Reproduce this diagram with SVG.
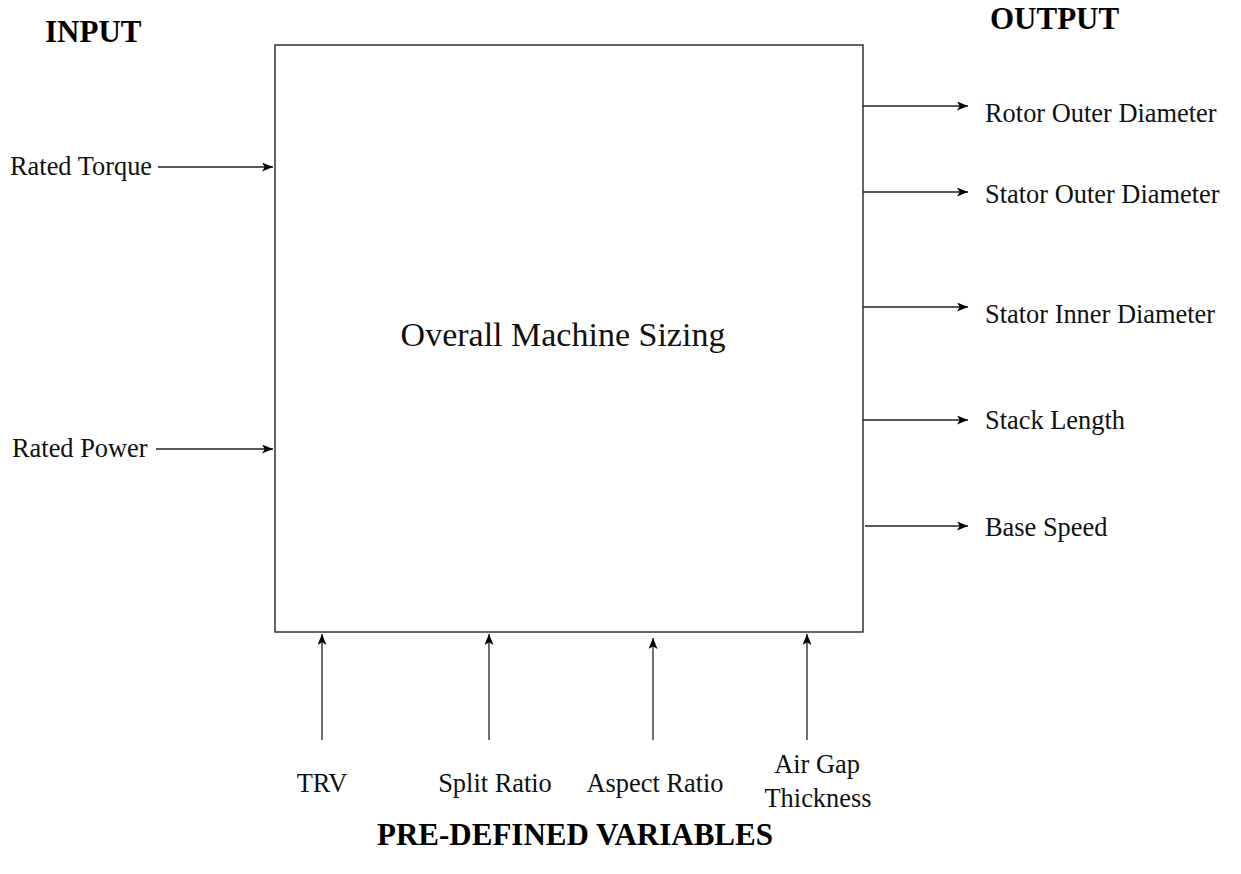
<svg xmlns="http://www.w3.org/2000/svg" width="1241" height="874" viewBox="0 0 1241 874">
<style>
.lbl{font-family:"Liberation Serif","Times New Roman",serif;font-size:26.4px;fill:#111}
.hdr{font-family:"Liberation Serif","Times New Roman",serif;font-size:31px;font-weight:bold;fill:#000}
.title{font-family:"Liberation Serif","Times New Roman",serif;font-size:34px;fill:#111}
.conn{stroke:#222;stroke-width:1.3;fill:none;marker-end:url(#ah)}
</style>
<defs>
<marker id="ah" viewBox="0 0 11 9" refX="11" refY="4.5" markerWidth="11" markerHeight="9" markerUnits="userSpaceOnUse" orient="auto">
<path d="M0,0 L11,4.5 L0,9 L2.8,4.5 z" fill="#000"/>
</marker>
</defs>
<rect width="1241" height="874" fill="#fff"/>
<text class="hdr" x="45" y="42">INPUT</text>
<text class="hdr" x="990" y="29">OUTPUT</text>
<text class="hdr" x="575" y="845" text-anchor="middle">PRE-DEFINED VARIABLES</text>
<g id="machine-sizing">
<rect x="275" y="45" width="588" height="587" fill="#fff" stroke="#333" stroke-width="1.5"/>
<text class="title" x="563" y="346" text-anchor="middle">Overall Machine Sizing</text>
</g>
<g id="rated-torque"><text class="lbl" x="10" y="175">Rated Torque</text></g>
<g id="rated-power"><text class="lbl" x="12" y="457">Rated Power</text></g>
<g id="rotor-outer-diameter"><text class="lbl" x="985" y="122">Rotor Outer Diameter</text></g>
<g id="stator-outer-diameter"><text class="lbl" x="985" y="203">Stator Outer Diameter</text></g>
<g id="stator-inner-diameter"><text class="lbl" x="985" y="323">Stator Inner Diameter</text></g>
<g id="stack-length"><text class="lbl" x="985" y="429">Stack Length</text></g>
<g id="base-speed"><text class="lbl" x="985" y="536">Base Speed</text></g>
<g id="trv"><text class="lbl" x="322" y="792" text-anchor="middle">TRV</text></g>
<g id="split-ratio"><text class="lbl" x="495" y="792" text-anchor="middle">Split Ratio</text></g>
<g id="aspect-ratio"><text class="lbl" x="655" y="792" text-anchor="middle">Aspect Ratio</text></g>
<g id="air-gap-thickness"><text class="lbl" x="817" y="773" text-anchor="middle">Air Gap</text><text class="lbl" x="818" y="807" text-anchor="middle">Thickness</text></g>
<g id="connectors">
<line class="conn" x1="158" y1="167" x2="273" y2="167"/>
<line class="conn" x1="156" y1="449" x2="273" y2="449"/>
<line class="conn" x1="863" y1="106" x2="968" y2="106"/>
<line class="conn" x1="863" y1="192" x2="968" y2="192"/>
<line class="conn" x1="863" y1="307" x2="968" y2="307"/>
<line class="conn" x1="863" y1="420" x2="968" y2="420"/>
<line class="conn" x1="865" y1="526" x2="968" y2="526"/>
<line class="conn" x1="322" y1="740" x2="322" y2="634"/>
<line class="conn" x1="489" y1="740" x2="489" y2="634"/>
<line class="conn" x1="653" y1="740" x2="653" y2="638"/>
<line class="conn" x1="807" y1="740" x2="807" y2="634"/>
</g>
</svg>
